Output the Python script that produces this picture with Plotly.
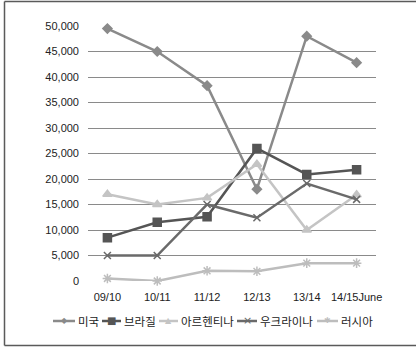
import plotly.graph_objects as go

# Marketing years
seasons = ["09/10", "10/11", "11/12", "12/13", "13/14", "14/15June"]

# Series values (per country)
usa = [49500, 45000, 38300, 18000, 48000, 42800]
brazil = [8500, 11500, 12600, 26000, 20900, 21800]
argentina = [17000, 15000, 16300, 22900, 10000, 16900]
ukraine = [5000, 5000, 15000, 12400, 19100, 16000]
russia = [500, 0, 2000, 1900, 3500, 3500]

y_ticks = [0, 5000, 10000, 15000, 20000, 25000, 30000, 35000, 40000, 45000, 50000]

# name, values, colour, plot marker, marker size, legend glyph, glyph size
series = [
    ("미국", usa, "#8a8a8a", "diamond", 7, "◆", 8),
    ("브라질", brazil, "#555555", "square", 8, "■", 10),
    ("아르헨티나", argentina, "#c4c4c4", "triangle-up", 8, "▲", 8),
    ("우크라이나", ukraine, "#6a6a6a", "x-thin", 7, "×", 11),
    ("러시아", russia, "#bdbdbd", "asterisk", 8, "✱", 8),
]

W, H = 416, 347
L, R, T, B = 88, 40, 26, 66
pw, ph = W - L - R, H - T - B


def px_x(p):
    return (p - L) / pw


def px_y(p):
    return (H - B - p) / ph


fig = go.Figure()
for name, vals, color, symbol, size, _, _ in series:
    fig.add_trace(go.Scatter(
        x=seasons, y=vals, name=name, mode="lines+markers",
        line=dict(color=color, width=2.5),
        marker=dict(symbol=symbol, size=size, color=color,
                    line=dict(color=color, width=1.5)),
        cliponaxis=False, showlegend=False,
    ))

# hand-built legend row: short line key, glyph and label for each series
legend_keys = [(53, 75), (102, 121), (159, 178), (237, 257), (317, 338)]
legend_y = 321
shapes = []
annotations = []
for (name, _, color, _, _, glyph, gsize), (x0, x1) in zip(series, legend_keys):
    shapes.append(dict(type="line", xref="paper", yref="paper",
                       x0=px_x(x0), x1=px_x(x1), y0=px_y(legend_y), y1=px_y(legend_y),
                       line=dict(color=color, width=2.5)))
    annotations.append(dict(xref="paper", yref="paper", x=px_x((x0 + x1) / 2),
                            y=px_y(legend_y), text=glyph, showarrow=False,
                            xanchor="center", yanchor="middle",
                            font=dict(family="DejaVu Sans", size=gsize, color=color)))
    annotations.append(dict(xref="paper", yref="paper", x=px_x(x1 + 1),
                            y=px_y(legend_y), text=name, showarrow=False,
                            xanchor="left", yanchor="middle",
                            font=dict(family="Noto Sans CJK KR", size=11.5, color="#222222")))

# outer frame: top, left and bottom edges
frame = dict(color="#5a5a5a", width=1.5)
for (xa, ya, xb, yb) in [(4.5, 1.5, 416, 1.5), (4.5, 1.5, 4.5, 345.5), (4.5, 345.5, 416, 345.5)]:
    shapes.append(dict(type="line", xref="paper", yref="paper",
                       x0=px_x(xa), y0=px_y(ya), x1=px_x(xb), y1=px_y(yb), line=frame))

fig.update_layout(
    width=W, height=H,
    margin=dict(l=L, r=R, t=T, b=B, autoexpand=False),
    paper_bgcolor="white", plot_bgcolor="white",
    font=dict(family="Liberation Sans Narrow, Liberation Sans, Arial", size=11, color="#222222"),
    showlegend=False,
    shapes=shapes,
    annotations=annotations,
    xaxis=dict(type="category", showgrid=False, zeroline=False, showline=False,
               ticks="", tickfont=dict(size=11), ticklabelstandoff=8),
    yaxis=dict(range=[0, 50000], tickvals=y_ticks,
               ticktext=[f"{v:,}" for v in y_ticks],
               showgrid=True, gridcolor="#8a8a8a", gridwidth=1,
               zeroline=False, showline=False, ticks="",
               tickfont=dict(size=11), ticklabelstandoff=8),
)

fig.write_html("out.html", config={"displayModeBar": False},
               post_script="document.body.style.margin='0';document.body.style.overflow='hidden';")
